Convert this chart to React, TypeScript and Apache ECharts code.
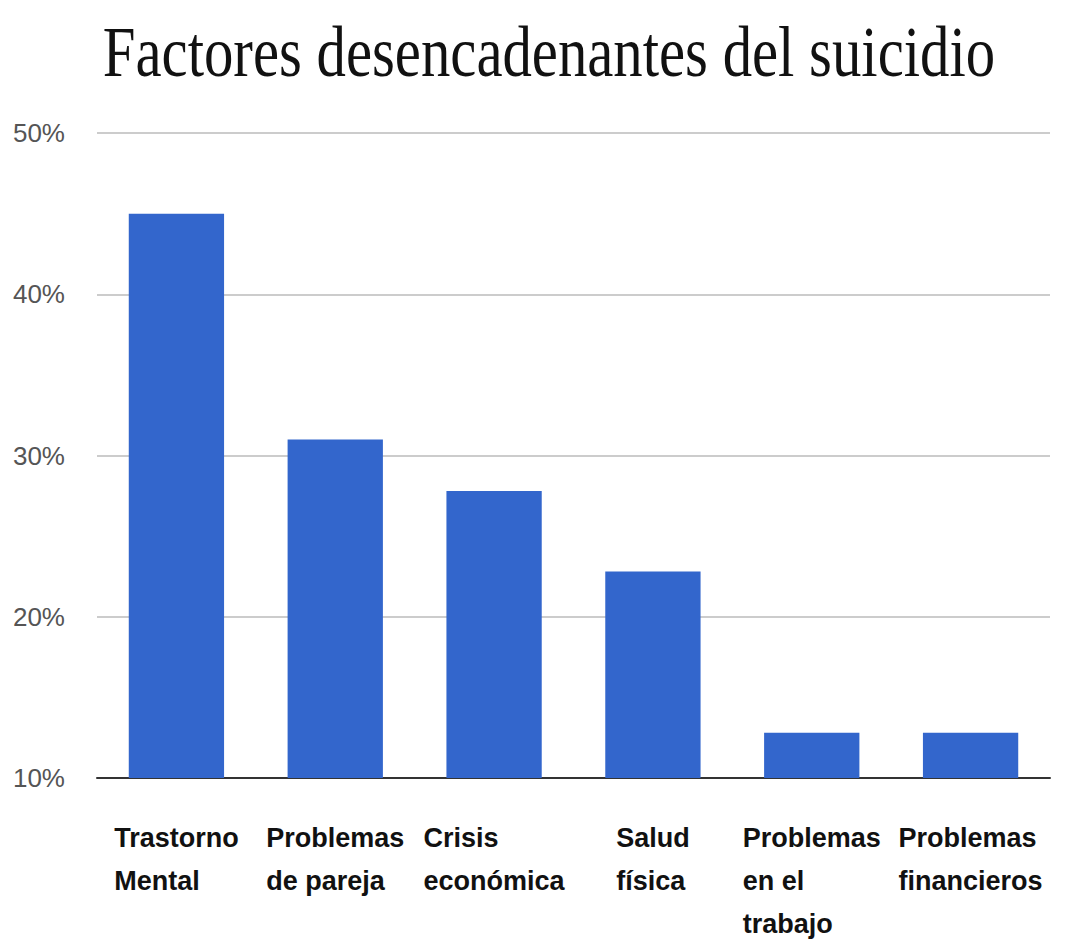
import React, { useEffect, useRef } from "react";
import * as echarts from "echarts";

const titleText = "Factores desencadenantes del suicidio";
const categories = [
  "Trastorno\nMental",
  "Problemas\nde pareja",
  "Crisis\neconómica",
  "Salud\nfísica",
  "Problemas\nen el\ntrabajo",
  "Problemas\nfinancieros",
];
const values = [45, 31, 27.8, 22.8, 12.8, 12.8];
const yMin = 10;
const yMax = 50;
const yStep = 10;

export default function App() {
  const ref = useRef<HTMLDivElement>(null);
  useEffect(() => {
    if (!ref.current) return;
    const chart = echarts.init(ref.current, null, { renderer: "svg" });
    const sans = "'Liberation Sans', Arial, sans-serif";
    chart.setOption({
      animation: false,
      backgroundColor: "#ffffff",
      graphic: [
        {
          type: "text",
          x: 549,
          y: 51,
          scaleX: 0.816,
          style: {
            text: titleText,
            fontFamily: "'Liberation Serif', serif",
            fontSize: 72,
            fill: "#111111",
            textAlign: "center",
            textVerticalAlign: "middle",
          },
        },
      ],
      grid: { left: 97, right: 17, top: 133, bottom: 169, containLabel: false },
      xAxis: {
        type: "category",
        data: categories,
        axisLine: { show: true, lineStyle: { color: "#333333", width: 2 } },
        axisTick: { show: false },
        axisLabel: {
          interval: 0,
          margin: 38,
          formatter: (v: string) =>
            v
              .split("\n")
              .map((l) => `{a|${l}}`)
              .join("\n"),
          rich: {
            a: {
              fontFamily: sans,
              fontSize: 27,
              fontWeight: "bold",
              color: "#111111",
              lineHeight: 43,
              align: "left",
            },
          },
        },
      },
      yAxis: {
        type: "value",
        min: yMin,
        max: yMax,
        interval: yStep,
        axisLine: { show: false },
        axisTick: { show: false },
        axisLabel: {
          formatter: "{value}%",
          margin: 32,
          fontFamily: sans,
          fontSize: 26,
          color: "#555555",
        },
        splitLine: { lineStyle: { color: "#cccccc", width: 2 } },
      },
      series: [
        {
          type: "bar",
          data: values,
          barCategoryGap: "40%",
          itemStyle: { color: "#3366cc" },
        },
      ],
    });
    return () => chart.dispose();
  }, []);
  return (
    <div
      ref={ref}
      style={{ position: "absolute", left: 0, top: 0, width: 1067, height: 947 }}
    />
  );
}
